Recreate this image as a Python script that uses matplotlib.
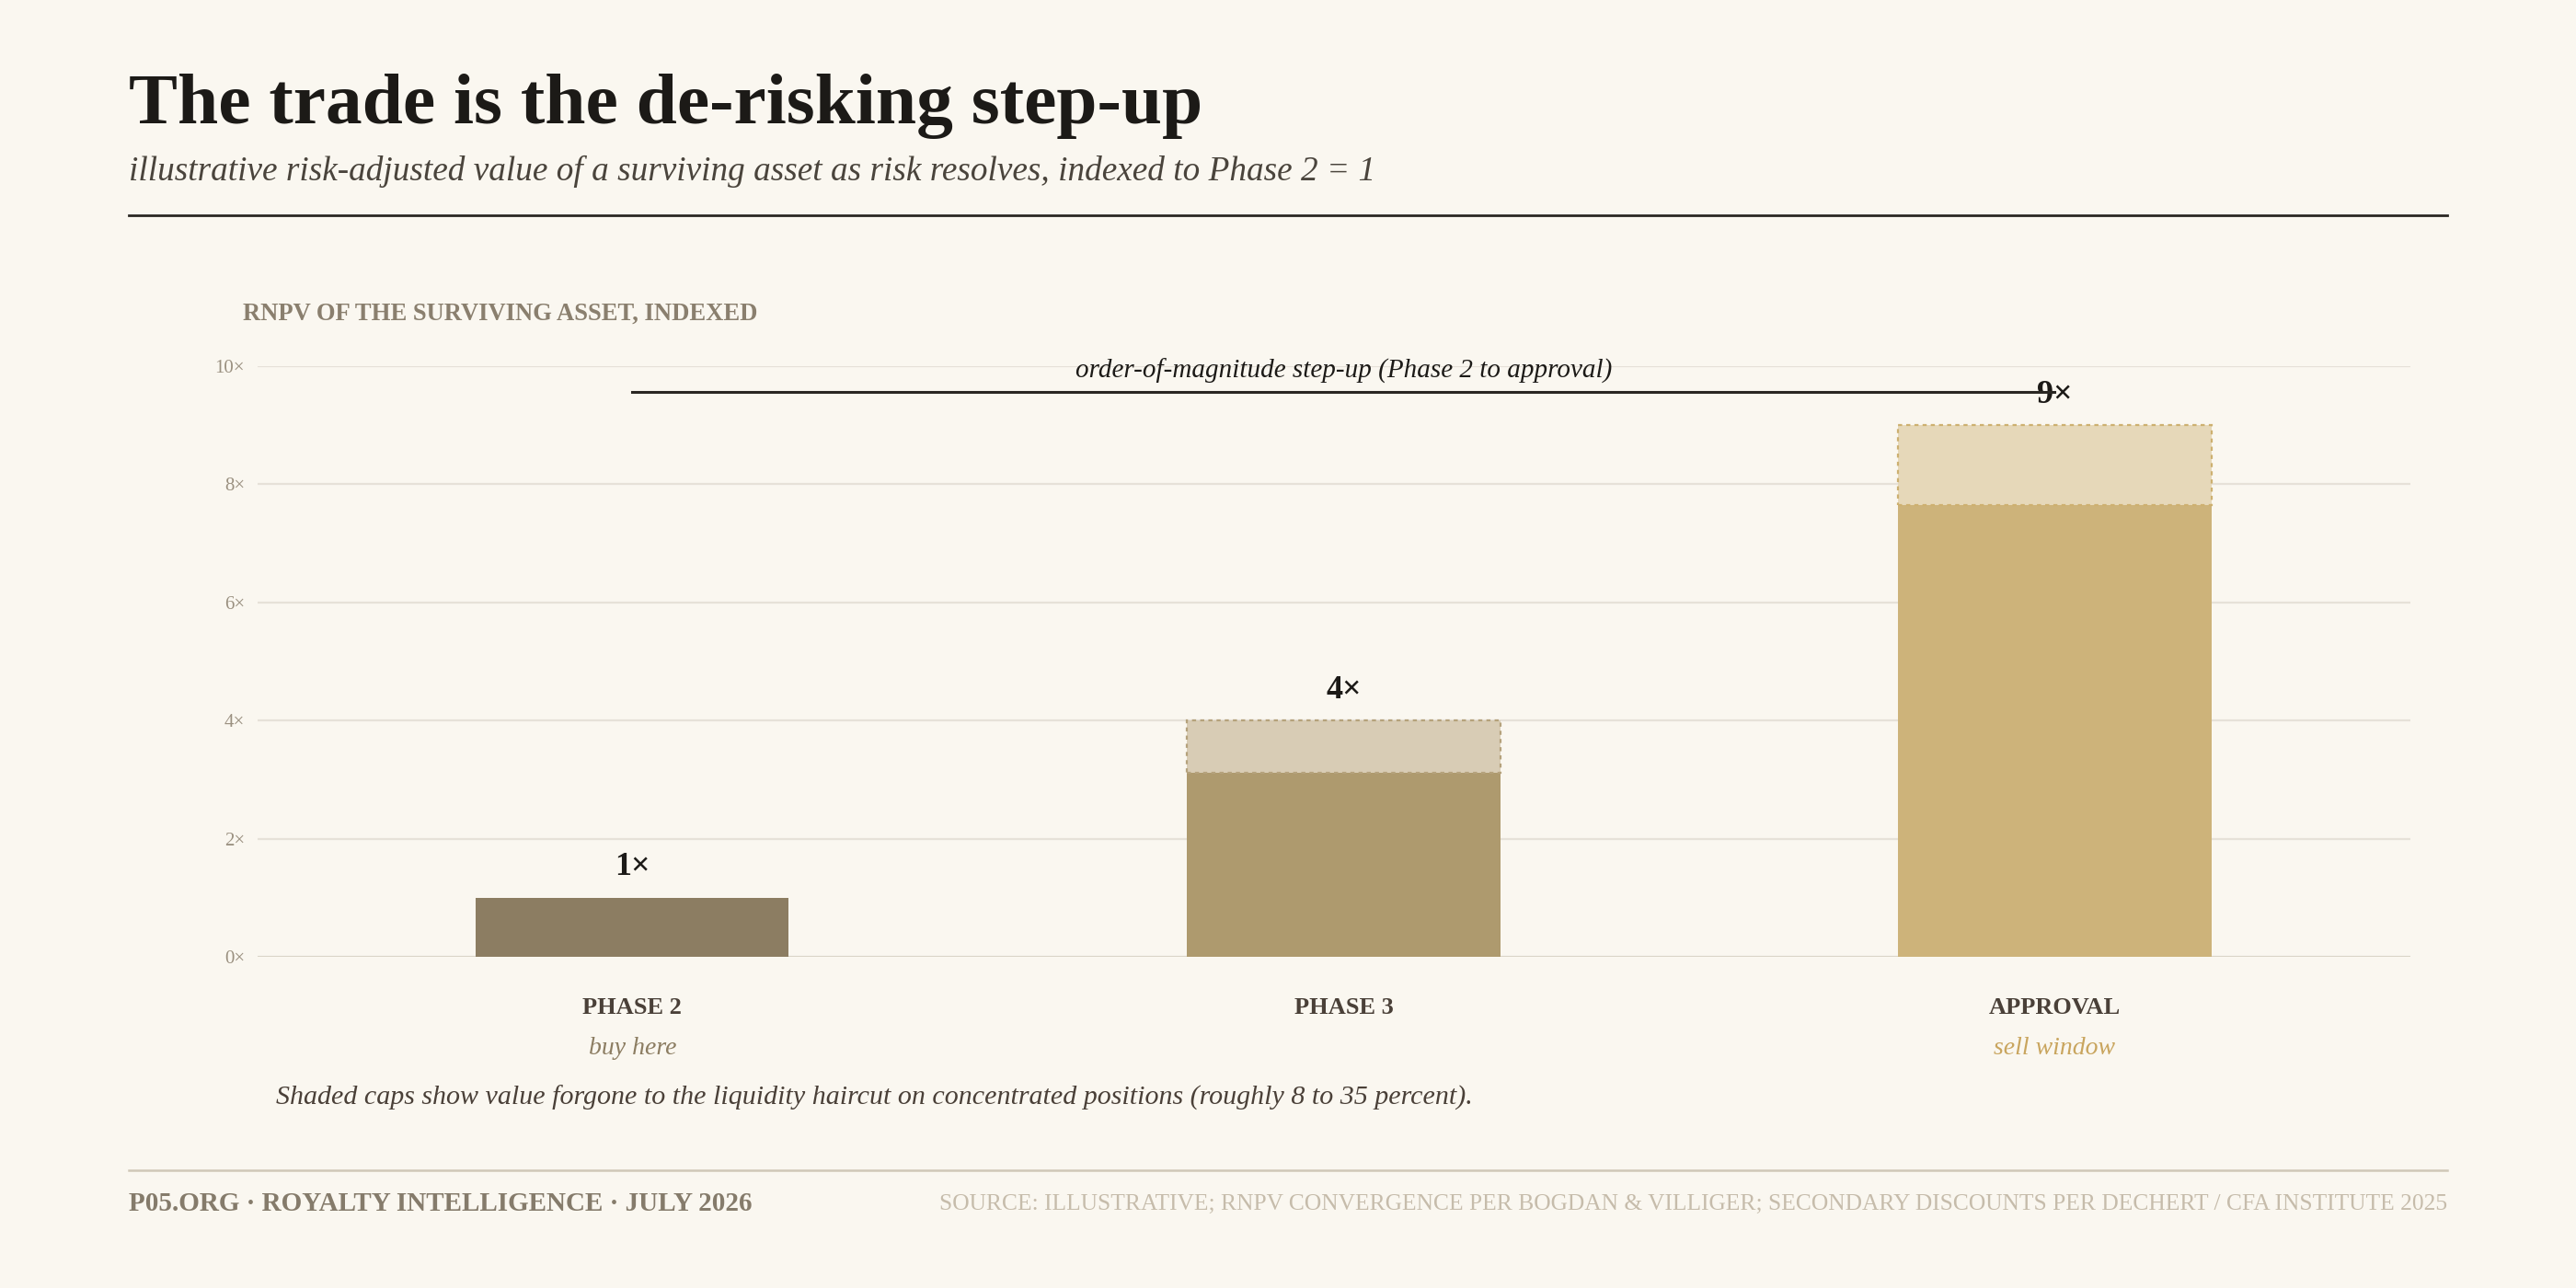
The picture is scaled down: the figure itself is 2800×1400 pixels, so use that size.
import matplotlib
matplotlib.use("Agg")
import matplotlib.pyplot as plt

# data
stages = ["PHASE 2", "PHASE 3", "APPROVAL"]
sublabels = ["buy here", "", "sell window"]
gross = [1.0, 4.0, 9.0]          # risk-adjusted value, indexed to Phase 2 = 1
net = [1.0, 3.12, 7.65]          # after liquidity haircut
value_labels = ["1×", "4×", "9×"]
yticks = [0, 2, 4, 6, 8, 10]
ytick_labels = ["0×", "2×", "4×", "6×", "8×", "10×"]

bg = "#faf7f0"
solid_colors = ["#8c7d62", "#ae9a6e", "#cdb37a"]
cap_colors = ["#d8ccb5", "#d8ccb5", "#e6d8b9"]
cap_edges = ["#b5a27c", "#b5a27c", "#cdb070"]
sub_colors = ["#8c7d62", "#8c7d62", "#c9a55e"]

plt.rcParams["font.family"] = ["Liberation Serif", "DejaVu Serif"]

W, H = 2800, 1400
fig = plt.figure(figsize=(14, 7), dpi=200, facecolor=bg)


def fx(px):
    return px / W


def fy(py):
    return 1 - py / H


# header
fig.text(fx(140), fy(134), "The trade is the de-risking step-up", fontsize=28.6,
         fontweight="bold", color="#1c1a17", ha="left", va="baseline")
fig.text(fx(140), fy(196),
         "illustrative risk-adjusted value of a surviving asset as risk resolves, indexed to Phase 2 = 1",
         fontsize=13.4, style="italic", color="#4a443c", ha="left", va="baseline")
fig.add_artist(plt.Line2D([fx(140), fx(2660)], [fy(234), fy(234)], color="#2a2723", lw=1.0))

# axes
ax = fig.add_axes([fx(280), fy(1040), fx(2620) - fx(280), (1040 - 398) / H])
ax.set_facecolor(bg)
x = list(range(len(stages)))
width = 0.44

for i in x:
    ax.bar(i, net[i], width=width, color=solid_colors[i], zorder=3)
    if gross[i] > net[i]:
        ax.bar(i, gross[i] - net[i], bottom=net[i], width=width, color=cap_colors[i],
               edgecolor=cap_edges[i], linestyle=(0, (2, 2)), linewidth=0.8, zorder=3)
    ax.annotate(value_labels[i], (i, gross[i]), xytext=(0, 6), textcoords="offset points",
                ha="center", va="bottom", fontsize=13, fontweight="bold", color="#1c1a17")
    ax.annotate(stages[i], (i, 0), xytext=(0, -20), textcoords="offset points",
                ha="center", va="center", fontsize=9.5, fontweight="bold", color="#4a4038",
                annotation_clip=False)
    if sublabels[i]:
        ax.annotate(sublabels[i], (i, 0), xytext=(0, -36), textcoords="offset points",
                    ha="center", va="center", fontsize=10, style="italic", color=sub_colors[i],
                    annotation_clip=False)

# step-up bracket
step_y = 9.57
ax.plot([x[0], x[-1]], [step_y, step_y], color="#2a2723", lw=1.1, zorder=4, clip_on=False)
ax.annotate("order-of-magnitude step-up (Phase 2 to approval)", ((x[0] + x[-1]) / 2, step_y),
            xytext=(0, 3), textcoords="offset points", ha="center", va="bottom",
            fontsize=10.5, style="italic", color="#1c1a17", annotation_clip=False)

ax.set_xlim(-0.527, 2.5)
ax.set_ylim(0, 10)
ax.set_yticks(yticks)
ax.set_yticklabels(ytick_labels)
ax.set_xticks([])
ax.tick_params(axis="y", length=0, pad=5, labelsize=7.5, labelcolor="#9a9080")
ax.grid(axis="y", color="#e6e1d8", lw=0.8, zorder=0)
for s in ax.spines.values():
    s.set_visible(False)
ax.axhline(0, color="#d6d0c4", lw=0.9, zorder=2)

fig.text(fx(264), fy(348), "RNPV OF THE SURVIVING ASSET, INDEXED", fontsize=9.6,
         fontweight="bold", color="#8a7f6e", ha="left", va="baseline")

fig.text(fx(300), fy(1193),
         "Shaded caps show value forgone to the liquidity haircut on concentrated positions (roughly 8 to 35 percent).",
         fontsize=10.8, style="italic", color="#4a4038", ha="left", va="center")

# footer
fig.add_artist(plt.Line2D([fx(140), fx(2660)], [fy(1272), fy(1272)], color="#d0c8b8", lw=0.9))
fig.text(fx(140), fy(1309), "P05.ORG · ROYALTY INTELLIGENCE · JULY 2026", fontsize=10.5,
         fontweight="bold", color="#857b6b", ha="left", va="center")
fig.text(fx(2660), fy(1309),
         "SOURCE: ILLUSTRATIVE; RNPV CONVERGENCE PER BOGDAN & VILLIGER; SECONDARY DISCOUNTS PER DECHERT / CFA INSTITUTE 2025",
         fontsize=9.2, color="#c6bcab", ha="right", va="center")

fig.savefig("out.png", dpi=200, facecolor=bg)
